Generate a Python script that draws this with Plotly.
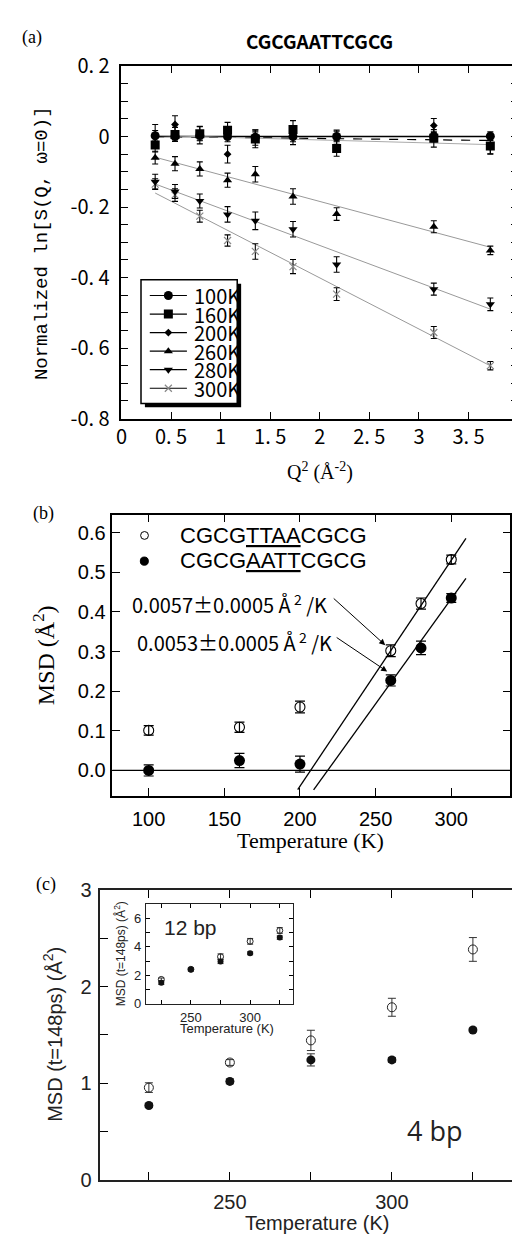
import plotly.graph_objects as go

W, H = 520, 1240


def px(x):
    return x / W


def py(y):
    return 1 - y / H


# ---------------- data: panel (a) ----------------
q2 = [0.34, 0.54, 0.79, 1.07, 1.35, 1.73, 2.17, 3.15, 3.72]
temp_labels_a = ["100K", "160K", "200K", "260K", "280K", "300K"]
lnS_100K = [0.002, 0.000, 0.003, 0.000, -0.002, 0.000, 0.000, 0.000, 0.001]
lnS_160K = [-0.024, 0.006, 0.008, 0.018, -0.007, 0.020, -0.034, -0.005, -0.027]
lnS_200K = [0.004, 0.034, 0.004, -0.050, -0.003, 0.002, -0.002, 0.031, -0.030]
lnS_260K = [-0.060, -0.077, -0.092, -0.124, -0.107, -0.170, -0.220, -0.256, -0.323]
lnS_280K = [-0.128, -0.156, -0.183, -0.221, -0.239, -0.263, -0.363, -0.433, -0.476]
lnS_300K = [-0.135, -0.166, -0.226, -0.295, -0.326, -0.369, -0.447, -0.556, -0.650]
err_100K = [0.015, 0.013, 0.013, 0.015, 0.015, 0.015, 0.015, 0.015, 0.012]
err_160K = [0.020, 0.020, 0.020, 0.022, 0.025, 0.025, 0.022, 0.025, 0.022]
err_200K = [0.030, 0.025, 0.025, 0.025, 0.022, 0.025, 0.020, 0.020, 0.020]
err_260K = [0.018, 0.020, 0.020, 0.020, 0.022, 0.022, 0.018, 0.017, 0.012]
err_280K = [0.021, 0.020, 0.020, 0.022, 0.025, 0.022, 0.022, 0.017, 0.018]
err_300K = [0.015, 0.018, 0.017, 0.016, 0.022, 0.020, 0.018, 0.017, 0.012]
fit_intercept_a = [0.000, 0.001, 0.0056, -0.033, -0.099, -0.111]
fit_slope_a = [0.000, -0.0033, -0.0077, -0.0756, -0.105, -0.145]

# ---------------- data: panel (b) ----------------
temp_b = [100, 160, 200, 260, 280, 300]
msd_TTAA = [0.101, 0.109, 0.160, 0.302, 0.421, 0.532]
err_TTAA = [0.012, 0.013, 0.015, 0.015, 0.014, 0.011]
msd_AATT = [0.000, 0.025, 0.016, 0.227, 0.309, 0.435]
err_AATT = [0.014, 0.018, 0.020, 0.014, 0.017, 0.011]
fit_slope_b = [0.0057, 0.0053]
fit_T0_b = [207.0, 218.3]
fit_Tstart_b = [198.5, 209.0]
fit_Tend_b = [309.7, 309.7]

# ---------------- data: panel (c) ----------------
temp_c = [225, 250, 275, 300, 325]
msd4_open = [0.953, 1.213, 1.442, 1.785, 2.384]
msd4_open_err = [0.05, 0.03, 0.105, 0.093, 0.123]
msd4_fill = [0.768, 1.017, 1.240, 1.240, 1.550]
msd4_fill_err = [0.02, 0.025, 0.063, 0.025, 0.02]
msd12_open = [1.71, 2.42, 3.30, 4.38, 5.14]
msd12_open_err = [0.10, 0.10, 0.20, 0.20, 0.20]
msd12_fill = [1.48, 2.40, 2.97, 3.54, 4.64]
msd12_fill_err = [0.12, 0.10, 0.15, 0.10, 0.12]

JP = "Noto Sans CJK JP, Liberation Sans, sans-serif"
SANS = "Liberation Sans, Arial, sans-serif"
SERIF = "Liberation Serif, Times New Roman, serif"
MONO = "Liberation Mono, DejaVu Sans Mono, monospace"

fig = go.Figure()

# ---------------- panel (a) traces ----------------
series_a = [lnS_100K, lnS_160K, lnS_200K, lnS_260K, lnS_280K, lnS_300K]
errs_a = [err_100K, err_160K, err_200K, err_260K, err_280K, err_300K]
marker_a = [
    dict(symbol="circle", size=9, color="black"),
    dict(symbol="square", size=9, color="black"),
    dict(symbol="diamond", size=6, color="black"),
    dict(symbol="triangle-up", size=8, color="black"),
    dict(symbol="triangle-down", size=8, color="black"),
    dict(symbol="x-thin", size=7, color="#888888", line=dict(width=1.2, color="#888888")),
]
fit_style_a = [
    dict(color="black", width=1.3),
    dict(color="black", width=1.2, dash="dash"),
    dict(color="#aaaaaa", width=1),
    dict(color="#999999", width=1),
    dict(color="#999999", width=1),
    dict(color="#999999", width=1),
]
for i in range(6):
    xs = [q2[0], q2[-1]]
    ys = [fit_intercept_a[i] + fit_slope_a[i] * x for x in xs]
    fig.add_trace(go.Scatter(x=xs, y=ys, mode="lines", line=fit_style_a[i],
                             xaxis="x", yaxis="y", showlegend=False, hoverinfo="skip"))
for i in reversed(range(6)):
    fig.add_trace(go.Scatter(
        x=q2, y=series_a[i], mode="markers", marker=marker_a[i],
        error_y=dict(type="data", array=errs_a[i], color="black", thickness=1.1, width=3),
        xaxis="x", yaxis="y", showlegend=False, name=temp_labels_a[i]))

# legend glyphs (auxiliary axis mapped to the legend box, pixel-like units)
for i in range(6):
    yy = 278 + 19 * i
    fig.add_trace(go.Scatter(x=[139, 177], y=[yy, yy], mode="lines",
                             line=dict(color="black", width=1.2),
                             xaxis="x5", yaxis="y5", showlegend=False, hoverinfo="skip"))
    fig.add_trace(go.Scatter(x=[158], y=[yy], mode="markers", marker=marker_a[i],
                             xaxis="x5", yaxis="y5", showlegend=False, hoverinfo="skip"))

# ---------------- panel (b) traces ----------------
for i in range(2):
    xs = [fit_Tstart_b[i], fit_Tend_b[i]]
    ys = [fit_slope_b[i] * (x - fit_T0_b[i]) for x in xs]
    fig.add_trace(go.Scatter(x=xs, y=ys, mode="lines", line=dict(color="black", width=1.3),
                             xaxis="x2", yaxis="y2", showlegend=False, hoverinfo="skip"))
fig.add_trace(go.Scatter(
    x=temp_b, y=msd_TTAA, mode="markers",
    marker=dict(symbol="circle-open", size=10, color="black", line=dict(width=1.1)),
    error_y=dict(type="data", array=err_TTAA, color="black", thickness=1.2, width=5),
    xaxis="x2", yaxis="y2", showlegend=False))
fig.add_trace(go.Scatter(
    x=temp_b, y=msd_AATT, mode="markers",
    marker=dict(symbol="circle", size=11, color="black"),
    error_y=dict(type="data", array=err_AATT, color="black", thickness=1.2, width=5),
    xaxis="x2", yaxis="y2", showlegend=False))

# ---------------- panel (c) traces ----------------
fig.add_trace(go.Scatter(
    x=temp_c, y=msd4_open, mode="markers",
    marker=dict(symbol="circle-open", size=9, color="#222222", line=dict(width=1)),
    error_y=dict(type="data", array=msd4_open_err, color="#333333", thickness=1, width=4),
    xaxis="x3", yaxis="y3", showlegend=False))
fig.add_trace(go.Scatter(
    x=temp_c, y=msd4_fill, mode="markers",
    marker=dict(symbol="circle", size=9, color="#111111"),
    error_y=dict(type="data", array=msd4_fill_err, color="#333333", thickness=1, width=4),
    xaxis="x3", yaxis="y3", showlegend=False))
fig.add_trace(go.Scatter(
    x=temp_c, y=msd12_open, mode="markers",
    marker=dict(symbol="circle-open", size=6, color="#222222", line=dict(width=1)),
    error_y=dict(type="data", array=msd12_open_err, color="#333333", thickness=1, width=3),
    xaxis="x4", yaxis="y4", showlegend=False))
fig.add_trace(go.Scatter(
    x=temp_c, y=msd12_fill, mode="markers",
    marker=dict(symbol="circle", size=6, color="#111111"),
    error_y=dict(type="data", array=msd12_fill_err, color="#333333", thickness=1, width=3),
    xaxis="x4", yaxis="y4", showlegend=False))

# ---------------- axes ----------------
common = dict(showline=True, mirror="ticks", ticks="inside", linecolor="black",
              tickcolor="black", showgrid=False, zeroline=False, ticklabeloverflow="allow")

a_yticks = [round(k * 0.05, 2) for k in range(-16, 5)]
a_ylab = {0.2: "0. 2", 0.0: "0", -0.2: "-0. 2", -0.4: "-0. 4", -0.6: "-0. 6", -0.8: "-0. 8"}
a_xticks = [0, 0.5, 1, 1.5, 2, 2.5, 3, 3.5, 4]
a_xtext = ["0", "0. 5", "1", "1. 5", "2", "2. 5", "3", "3. 5", "4"]

fig.update_layout(
    xaxis=dict(common, domain=[px(110), px(516)], range=[0, 4], anchor="y",
               tickvals=a_xticks, ticktext=a_xtext, ticklen=7, linewidth=1.5, tickwidth=1.2,
               tickfont=dict(family=JP, size=20, color="black"), ticklabelstandoff=0),
    yaxis=dict(common, domain=[py(404), py(43)], range=[-0.8, 0.2], anchor="x",
               tickvals=a_yticks, ticktext=[a_ylab.get(v, "") for v in a_yticks],
               ticklen=7, linewidth=1.5, tickwidth=1.2,
               tickfont=dict(family=JP, size=20, color="black"), ticklabelstandoff=6),
    xaxis2=dict(common, domain=[px(100.7), px(508)], range=[76, 339], anchor="y2",
                tickvals=[100, 150, 200, 250, 300], ticklen=8, linewidth=1.5, tickwidth=1.2,
                tickfont=dict(family=SANS, size=20, color="black"), ticklabelstandoff=4),
    yaxis2=dict(common, domain=[py(790.7), py(502.5)], range=[-0.065, 0.645], anchor="x2",
                tickvals=[0, 0.1, 0.2, 0.3, 0.4, 0.5, 0.6],
                ticktext=["0.0", "0.1", "0.2", "0.3", "0.4", "0.5", "0.6"],
                ticklen=8, linewidth=1.5, tickwidth=1.2,
                tickfont=dict(family=SANS, size=20, color="black"), ticklabelstandoff=1),
    xaxis3=dict(common, domain=[px(88.3), px(519.5)], range=[210, 340], anchor="y3",
                tickvals=[225, 250, 275, 300, 325], ticktext=["", "250", "", "300", ""],
                ticklen=8, linewidth=1.5, tickwidth=1.2, linecolor="#222222",
                tickfont=dict(family=SANS, size=20, color="#222222"), ticklabelstandoff=4),
    yaxis3=dict(common, domain=[py(1183.3), py(886.7)], range=[0, 3], anchor="x3",
                tickvals=[0, 0.5, 1, 1.5, 2, 2.5, 3], ticktext=["0", "", "1", "", "2", "", "3"],
                ticklen=8, linewidth=1.5, tickwidth=1.2, linecolor="#222222",
                tickfont=dict(family=SANS, size=20, color="#222222"), ticklabelstandoff=3),
    xaxis4=dict(common, domain=[px(135), px(286)], range=[212, 336.5], anchor="y4",
                tickvals=[225, 250, 275, 300, 325], ticktext=["", "250", "", "300", ""],
                ticklen=4, linewidth=1.2, tickwidth=1, linecolor="#222222",
                tickfont=dict(family=SANS, size=13, color="#222222"), ticklabelstandoff=1),
    yaxis4=dict(common, domain=[py(1003.3), py(901)], range=[0, 7], anchor="x4",
                tickvals=[0, 1, 2, 3, 4, 5, 6, 7], ticktext=["0", "", "2", "", "4", "", "6", ""],
                ticklen=4, linewidth=1.2, tickwidth=1, linecolor="#222222",
                tickfont=dict(family=SANS, size=13, color="#222222"), ticklabelstandoff=1),
    xaxis5=dict(domain=[px(130), px(228.5)], range=[130, 228.5], visible=False, anchor="y5",
                fixedrange=True),
    yaxis5=dict(domain=[py(388.5), py(262)], range=[388.5, 262], visible=False, anchor="x5",
                fixedrange=True),
)

# ---------------- shapes ----------------
shapes = [
    # legend shadow and box (panel a)
    dict(type="rect", xref="paper", yref="paper", x0=px(134), x1=px(232.5), y0=py(392.5), y1=py(266),
         fillcolor="black", line=dict(width=0), layer="below"),
    dict(type="rect", xref="paper", yref="paper", x0=px(130), x1=px(228.5), y0=py(388.5), y1=py(262),
         fillcolor="white", line=dict(color="black", width=1.5), layer="below"),
    # zero line panel (b)
    dict(type="line", xref="x2 domain", yref="y2", x0=0, x1=1, y0=0, y1=0,
         line=dict(color="black", width=1.3)),
    # legend symbols panel (b)
    dict(type="circle", xref="paper", yref="paper", x0=px(129.6), x1=px(137.6), y0=py(527.7), y1=py(519.7),
         line=dict(color="black", width=1), fillcolor="white"),
    dict(type="circle", xref="paper", yref="paper", x0=px(129.3), x1=px(137.5), y0=py(554.2), y1=py(545.8),
         line=dict(color="black", width=1), fillcolor="black"),
]
fig.update_layout(shapes=shapes)

# ---------------- annotations ----------------
ann = []


def text(x, y, s, size, family, color="black", xanchor="center", yanchor="middle", angle=0):
    ann.append(dict(x=px(x), y=py(y), xref="paper", yref="paper", text=s, showarrow=False,
                    font=dict(size=size, family=family, color=color), xanchor=xanchor,
                    yanchor=yanchor, textangle=angle))


# panel (a)
text(18, 14, "(a)", 18, SERIF)
text(313, 17, "<b>CGCGAATTCGCG</b>", 19, JP)
text(28, 224, "Normalized ln[S(Q, ω=0)]", 19, MONO, angle=-90)
text(313, 458, "Q<sup>2</sup> (Å<sup>-2</sup>)", 20, SERIF)
for i, lab in enumerate(temp_labels_a):
    text(182, 278 + 19 * i, lab, 20, JP, xanchor="left")

# panel (b)
text(30, 501, "(b)", 18, SERIF)
text(168, 524, "CGCG<u>TTAA</u>CGCG", 22, SANS, xanchor="left")
text(168, 549, "CGCG<u>AATT</u>CGCG", 22, SANS, xanchor="left")
text(119, 594, "0.0057±0.0005 Å<sup> 2</sup> /K", 20, JP, xanchor="left")
text(124, 633, "0.0053±0.0005 Å<sup> 2</sup> /K", 20, JP, xanchor="left")
text(31, 646, "MSD (Å<sup>2</sup>)", 24, SERIF, angle=-90)
text(304, 836, "Temperature (K)", 22, SERIF)

# arrows in panel (b)
for tip, tail in [((380, 636), (327, 588)), ((382, 663), (330, 628))]:
    ann.append(dict(x=px(tip[0]), y=py(tip[1]), xref="paper", yref="paper", text="",
                    showarrow=True, ax=tail[0] - tip[0], ay=tail[1] - tip[1],
                    axref="pixel", ayref="pixel", arrowhead=2, arrowsize=1.2,
                    arrowwidth=1, arrowcolor="black"))

# panel (c)
text(33, 881, "(c)", 18, SERIF)
text(40, 1035, "MSD (t=148ps) (Å<sup>2</sup>)", 20, SANS, color="#222222", angle=-90)
text(311, 1228, "Temperature (K)", 20, SANS, color="#222222")
text(431, 1133, "4 bp", 27, "Open Sans, sans-serif", color="#222222")
text(181, 925, "12 bp", 21, SANS, color="#222222")
text(108, 952, "MSD (t=148ps) (Å<sup>2</sup>)", 12, SANS, color="#222222", angle=-90)
text(218, 1029, "Temperature (K)", 13, SANS, color="#222222")

fig.update_layout(annotations=ann)

fig.update_layout(width=W, height=H, margin=dict(l=0, r=0, t=0, b=0),
                  paper_bgcolor="white", plot_bgcolor="rgba(0,0,0,0)", showlegend=False)

fig.write_html("out.html")
